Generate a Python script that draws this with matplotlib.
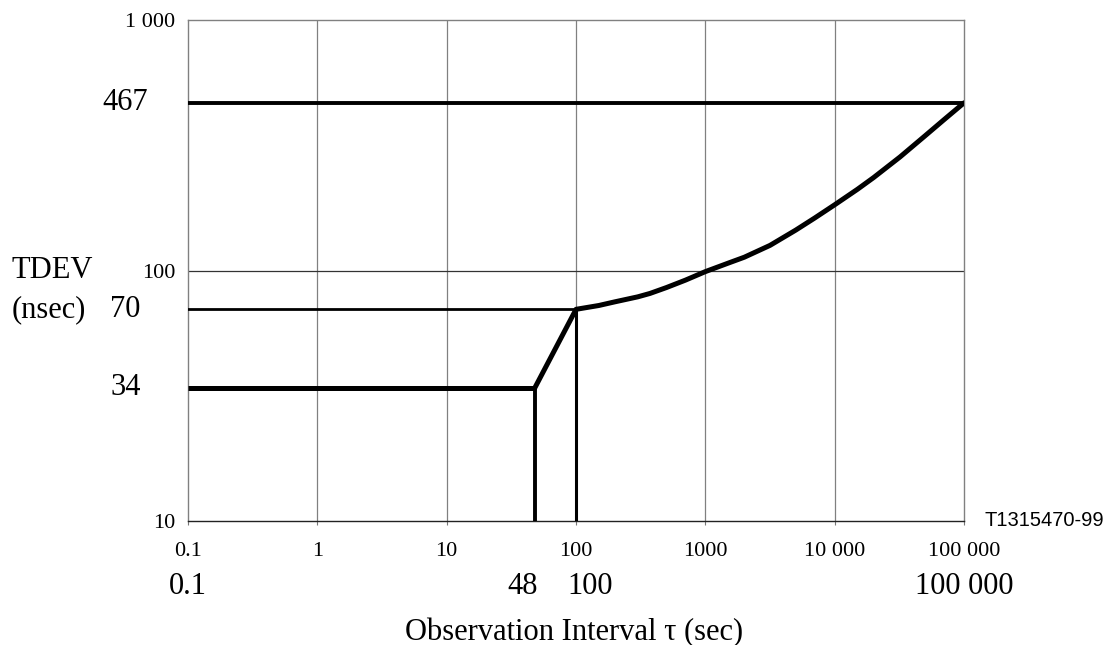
import matplotlib
matplotlib.use("Agg")
import matplotlib.pyplot as plt

# TDEV mask (nsec) vs observation interval tau (sec)
tau_flat = [0.1, 48]
tdev_flat = [34, 34]
tau_curve = [48, 100, 150, 200, 300, 373, 500, 700, 1000, 1500, 2000, 3162, 5000, 7000,
             10000, 15000, 20000, 32000, 50000, 70000, 100000]
tdev_curve = [34, 70, 72.5, 75, 78.5, 81, 85.5, 91.5, 99, 107, 113, 126, 145, 162,
              183, 211, 235, 284, 345, 400, 467]

x_ticks = [0.1, 1, 10, 100, 1000, 10000, 100000]
x_ticklabels = ["0.1", "1", "10", "100", "1000", "10 000", "100 000"]
y_ticks = [10, 100, 1000]
y_ticklabels = ["10", "100", "1 000"]

level_top = 467
level_mid = 70
level_low = 34
tau_corner1 = 48
tau_corner2 = 100

plt.rcParams['font.family'] = ['Liberation Serif', 'DejaVu Serif']

fig = plt.figure(figsize=(11.1, 6.45), dpi=100)
ax = fig.add_axes([0.1694, 0.1922, 0.6991, 0.7768])
ax.set_xscale('log')
ax.set_yscale('log')
ax.set_xlim(0.1, 100000)
ax.set_ylim(10, 1000)

ax.set_xticks(x_ticks)
ax.set_xticklabels(x_ticklabels)
ax.set_yticks(y_ticks)
ax.set_yticklabels(y_ticklabels)
ax.minorticks_off()
ax.tick_params(axis='x', length=3, color='#777777', labelsize=16, pad=12)
ax.tick_params(axis='y', length=0, labelsize=16, pad=9)

for x in x_ticks[1:-1]:
    ax.axvline(x, color='#808080', lw=0.9, zorder=1)
ax.axhline(100, color='#333333', lw=0.9, zorder=1)
for s in ['left', 'top', 'right']:
    ax.spines[s].set_color('#808080')
    ax.spines[s].set_linewidth(1.0)
ax.spines['bottom'].set_color('#222222')
ax.spines['bottom'].set_linewidth(1.0)

# reference levels and corners
ax.plot([0.1, 100000], [level_top, level_top], color='black', lw=2.8, zorder=3)
ax.plot([0.1, tau_corner2], [level_mid, level_mid], color='black', lw=2.0, zorder=3)
ax.plot([tau_corner1, tau_corner1], [10, level_low], color='black', lw=2.8, zorder=3)
ax.plot([tau_corner2, tau_corner2], [10, level_mid], color='black', lw=2.2, zorder=3)

# mask
ax.plot(tau_flat, tdev_flat, color='black', lw=3.6, zorder=4, solid_capstyle='butt')
ax.plot(tau_curve, tdev_curve, color='black', lw=3.6, zorder=4,
        solid_joinstyle='round', solid_capstyle='round')

big = 22
# large level labels on the y side
for val in [level_top, level_mid, level_low]:
    ax.annotate(str(val), xy=(0, val), xycoords=('axes fraction', 'data'),
                xytext=(-45, 0), textcoords='offset points',
                ha='center', va='center', fontsize=big)
ax.text(-0.227, 100, "TDEV", transform=ax.get_yaxis_transform(),
        ha='left', va='center', fontsize=big)
ax.text(-0.227, 70, "(nsec)", transform=ax.get_yaxis_transform(),
        ha='left', va='center', fontsize=big)

# large labels on the x side
for val, txt, dx in [(0.1, "0.1", 0), (tau_corner1, "48", -9), (tau_corner2, "100", 10),
                     (100000, "100 000", 0)]:
    ax.annotate(txt, xy=(val, 0), xycoords=('data', 'axes fraction'),
                xytext=(dx, -47), textcoords='offset points',
                ha='center', va='center', fontsize=big)

fig.text(0.517, 0.008, "Observation Interval \u03c4 (sec)", ha='center', va='baseline',
         fontsize=big)
fig.text(0.887, 0.193, "T1315470-99", ha='left', va='center', fontsize=14.5,
         family=['Liberation Sans', 'DejaVu Sans'])

fig.savefig("out.png", dpi=100)
